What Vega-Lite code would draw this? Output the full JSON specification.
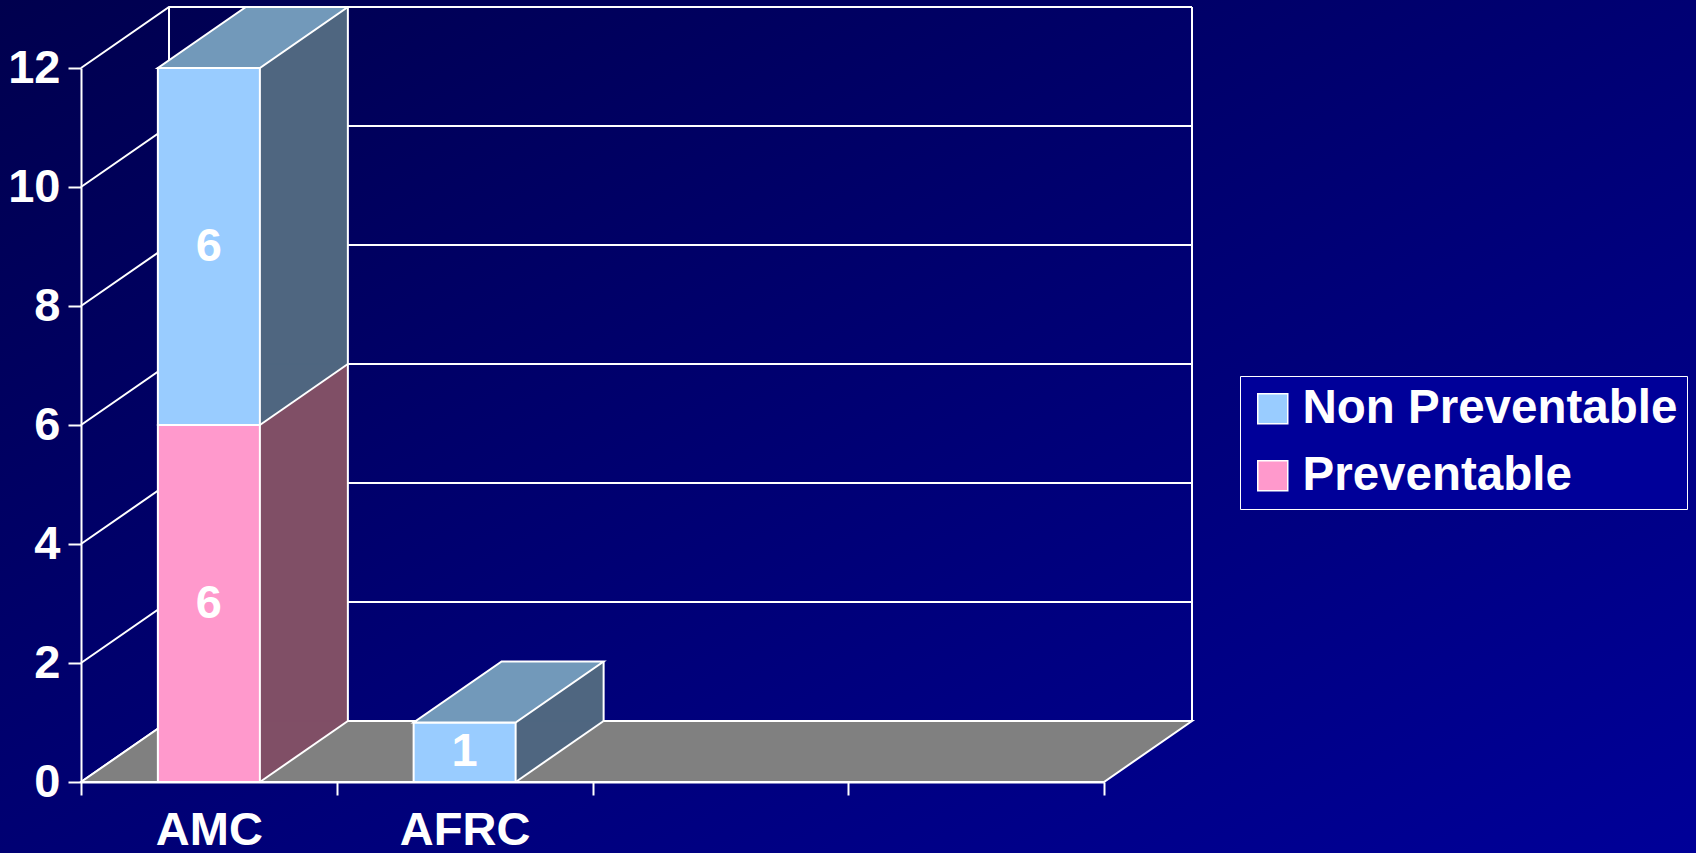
{
  "$schema": "https://vega.github.io/schema/vega-lite/v6.json",
  "width": 1696,
  "height": 853,
  "autosize": {"type": "none"},
  "padding": 0,
  "background": "#000070",
  "config": {"view": {"stroke": null}, "font": "Liberation Sans"},
  "datasets": {
    "counts": [
      {"cat": "AMC", "series": "Preventable", "count": 6},
      {"cat": "AMC", "series": "Non Preventable", "count": 6},
      {"cat": "AFRC", "series": "Preventable", "count": 0},
      {"cat": "AFRC", "series": "Non Preventable", "count": 1}
    ],
    "grid": [{"v": 0}, {"v": 2}, {"v": 4}, {"v": 6}, {"v": 8}, {"v": 10}, {"v": 12}]
  },
  "layer": [
    {
      "data": {"values": [{}]},
      "mark": {
        "type": "rect",
        "fill": {"gradient": "linear", "x1": 0, "y1": 0, "x2": 1, "y2": 1,
          "stops": [{"offset": 0, "color": "#00004E"}, {"offset": 1, "color": "#000098"}]},
        "stroke": null
      },
      "encoding": {}
    },
    {
      "data": {"name": "grid"},
      "mark": {"type": "point", "shape": "M-127.875,0 L-39.875,-61 L983.125,-61", "size": 4, "filled": false, "stroke": "white", "strokeWidth": 2, "opacity": 1},
      "encoding": {
        "x": {"datum": "AMC", "type": "nominal",
          "scale": {"domain": ["AMC", "AFRC", " ", "  "], "range": [81, 1104], "paddingInner": 0, "paddingOuter": 0},
          "axis": {"offset": -71, "tickBand": "extent", "domainColor": "white", "domainWidth": 2, "tickColor": "white", "tickWidth": 2, "tickSize": 13, "labelColor": "white", "labelFont": "Liberation Sans", "labelFontSize": 47, "labelFontWeight": "bold", "labelPadding": 12, "labelAngle": 0, "grid": false, "title": null, "zindex": 1}},
        "y": {"field": "v", "type": "quantitative",
          "scale": {"domain": [0, 12], "range": [782, 68], "nice": false, "zero": true},
          "axis": {"values": [0, 2, 4, 6, 8, 10, 12], "format": "d", "offset": -81, "domainColor": "white", "domainWidth": 2, "tickColor": "white", "tickWidth": 2, "tickSize": 13, "labelColor": "white", "labelFont": "Liberation Sans", "labelFontSize": 47, "labelFontWeight": "bold", "labelPadding": 8, "grid": false, "title": null, "zindex": 1}}
      }
    },
    {
      "data": {"values": [{}]},
      "mark": {"type": "rule", "stroke": "white", "strokeWidth": 2, "xOffset": -39.875, "yOffset": -61, "y2Offset": -61},
      "encoding": {
        "x": {"datum": "AMC", "type": "nominal"},
        "y": {"datum": 12, "type": "quantitative"},
        "y2": {"datum": 0}
      }
    },
    {
      "data": {"values": [{}]},
      "mark": {"type": "rule", "stroke": "white", "strokeWidth": 2, "xOffset": 983.125, "yOffset": -61, "y2Offset": -61},
      "encoding": {
        "x": {"datum": "AMC", "type": "nominal"},
        "y": {"datum": 12, "type": "quantitative"},
        "y2": {"datum": 0}
      }
    },
    {
      "data": {"values": [{}]},
      "mark": {"type": "point", "shape": "M-127.875,0 L895.125,0 L983.125,-61 L-39.875,-61 Z", "size": 4, "filled": true, "fill": "#808080", "stroke": "white", "strokeWidth": 2, "opacity": 1},
      "encoding": {
        "x": {"datum": "AMC", "type": "nominal"},
        "y": {"datum": 0, "type": "quantitative"}
      }
    },
    {
      "data": {"name": "counts"},
      "transform": [
        {"filter": "datum.count > 0"},
        {"stack": "count", "groupby": ["cat"], "sort": [{"field": "series", "order": "descending"}], "as": ["v0", "v1"]}
      ],
      "layer": [
        {
          "mark": {"type": "bar", "width": 88, "xOffset": 95, "yOffset": -61, "y2Offset": -61, "stroke": null},
          "encoding": {
            "x": {"field": "cat", "type": "nominal", "title": null},
            "y": {"field": "v1", "type": "quantitative", "title": null},
            "y2": {"field": "v0"},
            "fill": {"condition": {"test": "datum.series === 'Preventable'", "value": "#804F66"}, "value": "#4F6680"}
          }
        },
        {
          "mark": {"type": "point", "shape": "M51,-61 L51,0 L139,-61 Z", "size": 4, "filled": true, "opacity": 1, "strokeWidth": 1},
          "encoding": {
            "x": {"field": "cat", "type": "nominal", "title": null},
            "y": {"field": "v0", "type": "quantitative", "title": null},
            "fill": {"condition": {"test": "datum.series === 'Preventable'", "value": "#804F66"}, "value": "#4F6680"},
            "stroke": {"condition": {"test": "datum.series === 'Preventable'", "value": "#804F66"}, "value": "#4F6680"}
          }
        },
        {
          "mark": {"type": "bar", "width": 102, "stroke": "white", "strokeWidth": 2},
          "encoding": {
            "x": {"field": "cat", "type": "nominal", "title": null,
              "scale": {"domain": ["AMC", "AFRC", " ", "  "], "range": [81, 1104], "paddingInner": 0, "paddingOuter": 0}},
            "y": {"field": "v1", "type": "quantitative", "title": null},
            "y2": {"field": "v0"},
            "color": {"field": "series", "type": "nominal",
              "scale": {"domain": ["Non Preventable", "Preventable"], "range": ["#99CCFF", "#FF99CC"]},
              "legend": {"orient": "none", "legendX": 1240, "legendY": 376, "title": null, "fillColor": "#000099", "strokeColor": "white", "padding": 9, "symbolType": "square", "symbolSize": 900, "symbolStrokeColor": "white", "symbolStrokeWidth": 1.5, "symbolOpacity": 1, "labelFont": "Liberation Sans", "labelFontSize": 47.5, "labelFontWeight": "bold", "labelColor": "white", "labelOffset": 6, "rowPadding": 18, "labelLimit": 600}}
          }
        },
        {
          "transform": [
            {"joinaggregate": [{"op": "max", "field": "v1", "as": "top"}], "groupby": ["cat"]},
            {"filter": "datum.v1 === datum.top"}
          ],
          "mark": {"type": "point", "shape": "M-51,0 L51,0 L139,-61 L37,-61 Z", "size": 4, "filled": true, "opacity": 1, "stroke": "white", "strokeWidth": 2},
          "encoding": {
            "x": {"field": "cat", "type": "nominal", "title": null},
            "y": {"field": "v1", "type": "quantitative", "title": null},
            "fill": {"condition": {"test": "datum.series === 'Preventable'", "value": "#CC7AA3"}, "value": "#7299BA"}
          }
        },
        {
          "mark": {"type": "rule", "stroke": "white", "strokeWidth": 2, "xOffset": 139, "yOffset": -61, "y2Offset": -61},
          "encoding": {
            "x": {"field": "cat", "type": "nominal", "title": null},
            "y": {"field": "v1", "type": "quantitative", "title": null},
            "y2": {"field": "v0"}
          }
        },
        {
          "mark": {"type": "point", "shape": "M51,0 L139,-61", "size": 4, "filled": false, "stroke": "white", "strokeWidth": 2, "opacity": 1},
          "encoding": {
            "x": {"field": "cat", "type": "nominal", "title": null},
            "y": {"field": "v0", "type": "quantitative", "title": null}
          }
        }
      ]
    },
    {
      "data": {"name": "counts"},
      "transform": [
        {"filter": "datum.count > 0"},
        {"stack": "count", "groupby": ["cat"], "sort": [{"field": "series", "order": "descending"}], "as": ["v0", "v1"]},
        {"fold": ["v0", "v1"], "as": ["k", "pos"]},
        {"aggregate": [{"op": "mean", "field": "pos", "as": "mid"}], "groupby": ["cat", "series", "count"]}
      ],
      "mark": {"type": "text", "color": "white", "font": "Liberation Sans", "fontSize": 47, "fontWeight": "bold", "align": "center", "baseline": "middle"},
      "encoding": {
        "x": {"field": "cat", "type": "nominal", "title": null},
        "y": {"field": "mid", "type": "quantitative", "title": null},
        "text": {"field": "count", "type": "quantitative"}
      }
    }
  ]
}
